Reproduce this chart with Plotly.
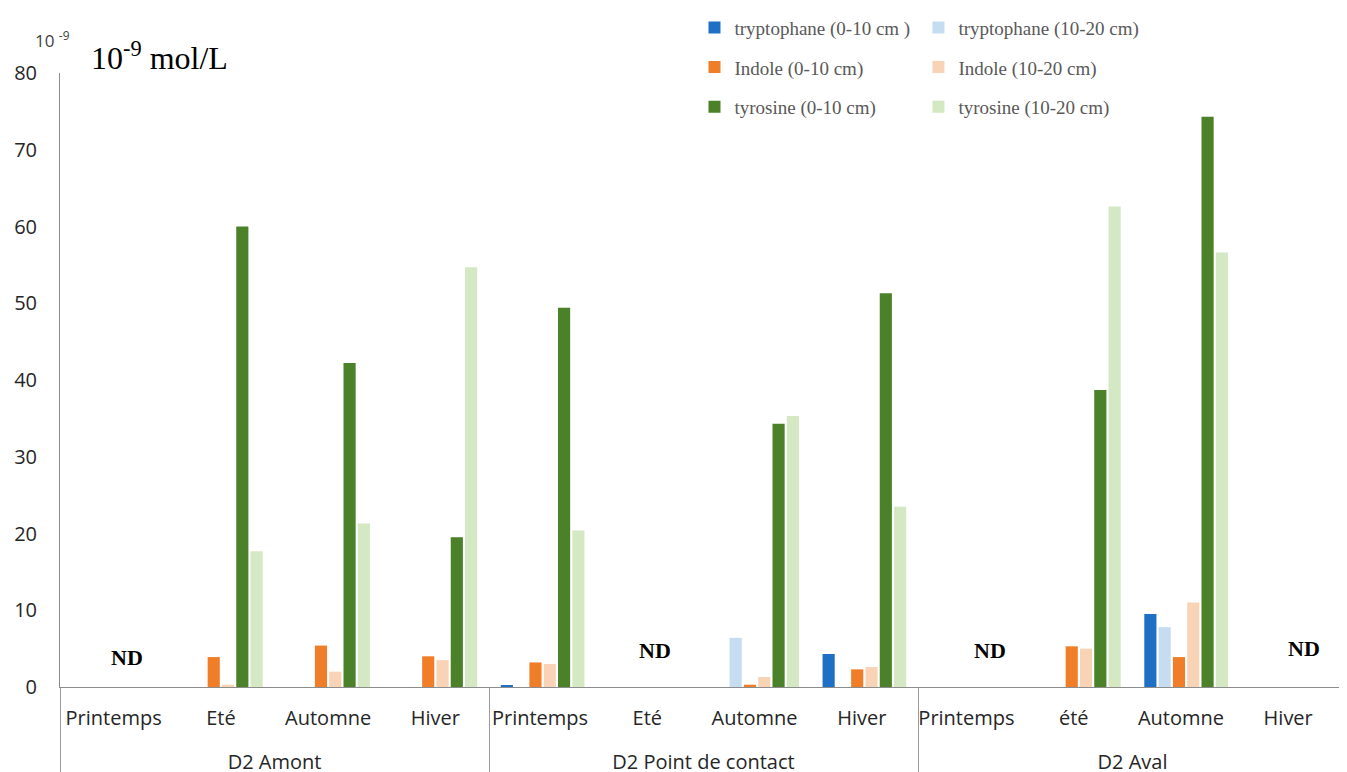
import plotly.graph_objects as go

groups = ["D2 Amont"] * 4 + ["D2 Point de contact"] * 4 + ["D2 Aval"] * 4
seasons = ["Printemps", "Eté", "Automne", "Hiver",
           "Printemps", "Eté", "Automne", "Hiver",
           "Printemps", "été", "Automne", "Hiver"]

trp_0_10 = [0, 0, 0, 0, 0.2, 0, 0, 4.3, 0, 0, 9.5, 0]
trp_10_20 = [0, 0, 0, 0, 0, 0, 6.4, 0, 0, 0, 7.8, 0]
ind_0_10 = [0, 3.9, 5.4, 4.0, 3.2, 0, 0.3, 2.3, 0, 5.3, 3.9, 0]
ind_10_20 = [0, 0.3, 2.0, 3.5, 3.0, 0, 1.3, 2.6, 0, 5.0, 11.0, 0]
tyr_0_10 = [0, 60.0, 42.2, 19.5, 49.4, 0, 34.3, 51.3, 0, 38.7, 74.3, 0]
tyr_10_20 = [0, 17.7, 21.3, 54.7, 20.4, 0, 35.3, 23.5, 0, 62.6, 56.6, 0]

series_names = ["tryptophane (0-10 cm )", "tryptophane (10-20 cm)",
                "Indole (0-10 cm)", "Indole (10-20 cm)",
                "tyrosine (0-10 cm)", "tyrosine (10-20 cm)"]
series_values = [trp_0_10, trp_10_20, ind_0_10, ind_10_20, tyr_0_10, tyr_10_20]
colors = ["#1f6fc5", "#c6ddf1", "#f07d28", "#f9d3b5", "#4a8129", "#d4e8c4"]
legends = ["legend", "legend2", "legend", "legend2", "legend", "legend2"]

nd_positions = [0.12, 5.05, 8.17, 11.1]
nd_y = [3.9, 4.7, 4.7, 5.0]

# Season labels for the multicategory axis: an invisible taller blank on each side
# enlarges the first label row (gap to the group row, as in the reference), and
# trailing spaces per group keep every season unique so the order is preserved.
group_order = list(dict.fromkeys(groups))
pad = "<span style=\"font-size:40px\">\u00a0</span>"
x_seasons = [pad + s + pad + " " * group_order.index(g) for g, s in zip(groups, seasons)]

fig = go.Figure()
for name, vals, col, lg in zip(series_names, series_values, colors, legends):
    fig.add_trace(go.Bar(
        x=[groups, x_seasons], y=vals, name=name,
        marker=dict(color=col, line=dict(width=0)),
        legend=lg, legendgroup=name,
    ))

legend_common = dict(
    orientation="v", xanchor="left", yanchor="top", y=1.105,
    font=dict(family="Liberation Serif", size=19, color="#595959"),
    bgcolor="rgba(0,0,0,0)", tracegroupgap=12, itemclick=False,
)

fig.update_layout(
    width=1339, height=764,
    margin=dict(l=52, r=0, t=63, b=85),
    paper_bgcolor="white", plot_bgcolor="white",
    barmode="group", bargap=0.2, bargroupgap=0.15,
    font=dict(family="Open Sans", size=20, color="#333333"),
    legend=dict(x=0.493, **legend_common),
    legend2=dict(x=0.667, **legend_common),
    xaxis=dict(
        type="multicategory", showline=True, linecolor="#8c8c8c", linewidth=1,
        showgrid=False, ticks="", tickangle=0, ticklabelstandoff=13,
        showdividers=True, dividercolor="#9a9a9a",
        dividerwidth=1, tickfont=dict(family="Open Sans", size=20, color="#262626"),
        automargin=False,
    ),
    yaxis=dict(
        range=[0, 80], dtick=10, showgrid=False, zeroline=False,
        showline=True, linecolor="#8c8c8c", linewidth=1, ticks="",
        ticklabelstandoff=18,
        tickfont=dict(family="Open Sans", size=20, color="#262626"),
        automargin=False,
    ),
)

for xp, yp in zip(nd_positions, nd_y):
    fig.add_annotation(x=xp, y=yp, xref="x", yref="y", text="<b>ND</b>",
                       showarrow=False,
                       font=dict(family="Liberation Serif", size=22, color="black"))

fig.add_annotation(x=0.0225, y=1.028, xref="paper", yref="paper", xanchor="left",
                   yanchor="middle", text="10<sup>-9</sup> mol/L", showarrow=False,
                   font=dict(family="Liberation Serif", size=32, color="black"))
fig.add_annotation(x=-0.021, y=1.054, xref="paper", yref="paper", xanchor="left",
                   yanchor="middle", text="10 <sup>-9</sup>", showarrow=False,
                   font=dict(family="Open Sans", size=17, color="#404040"))

fig.write_html("out.html")
